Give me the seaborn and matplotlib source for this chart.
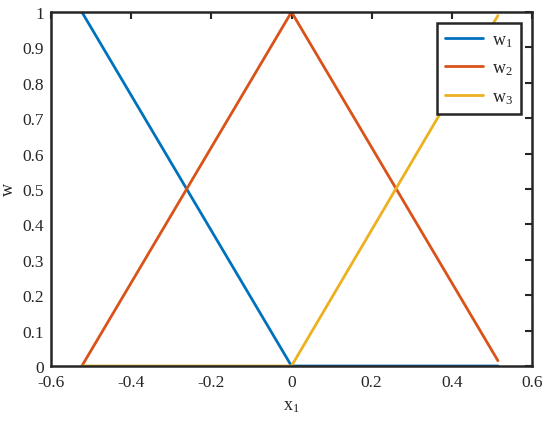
import pandas as pd
import matplotlib
matplotlib.use("Agg")
import matplotlib.pyplot as plt
import seaborn as sns

# Dados (pontos de quebra das funções de pertinência)
x1 = [-0.523, 0.0, 0.515]
w1 = [1.0, 0.0, 0.0]
w2 = [0.0, 1.0, 0.015]
w3 = [0.0, 0.0, 0.99]
nomes = ["$\\mathregular{w_1}$", "$\\mathregular{w_2}$", "$\\mathregular{w_3}$"]
cores = ["#0072BD", "#D95319", "#EDB120"]

df = pd.DataFrame({
    "x": x1 * 3,
    "w": w1 + w2 + w3,
    "serie": [nomes[0]] * 3 + [nomes[1]] * 3 + [nomes[2]] * 3,
})

sns.set_style("white")
plt.rcParams["font.family"] = ["Liberation Serif", "DejaVu Serif"]
plt.rcParams["mathtext.fontset"] = "custom"
plt.rcParams["mathtext.rm"] = "Liberation Serif"

fig = plt.figure(figsize=(5.5, 4.27), dpi=100)
ax = fig.add_axes([51 / 550, 1 - 367 / 427, 481 / 550, 354 / 427])

sns.lineplot(data=df, x="x", y="w", hue="serie", palette=cores, linewidth=2, ax=ax)

ax.set_xlim(-0.6, 0.6)
ax.set_ylim(0, 1)
ax.set_xticks([-0.6, -0.4, -0.2, 0, 0.2, 0.4, 0.6])
ax.set_xticklabels(["-0.6", "-0.4", "-0.2", "0", "0.2", "0.4", "0.6"])
ax.set_yticks([i / 10 for i in range(11)])
ax.set_yticklabels(["0", "0.1", "0.2", "0.3", "0.4", "0.5", "0.6", "0.7", "0.8", "0.9", "1"])
ax.set_xlabel("$\\mathregular{x_1}$", fontsize=13, labelpad=5)
ax.set_ylabel("w", fontsize=13, labelpad=4)
ax.tick_params(direction="in", length=5, width=1.5, top=True, right=True,
               labelsize=12.5, colors="#262626")
ax.tick_params(axis="x", pad=6)
ax.tick_params(axis="y", pad=5)
for s in ax.spines.values():
    s.set_linewidth(1.8)
    s.set_color("#262626")

leg = ax.legend(loc="upper right", fontsize=13, frameon=True, fancybox=False,
                edgecolor="#262626", borderaxespad=0.6, handlelength=2.1,
                labelspacing=0.6, handletextpad=0.5, borderpad=0.45)
leg.get_frame().set_linewidth(1.8)
leg.get_frame().set_alpha(1)

fig.savefig("out.png", dpi=100)
